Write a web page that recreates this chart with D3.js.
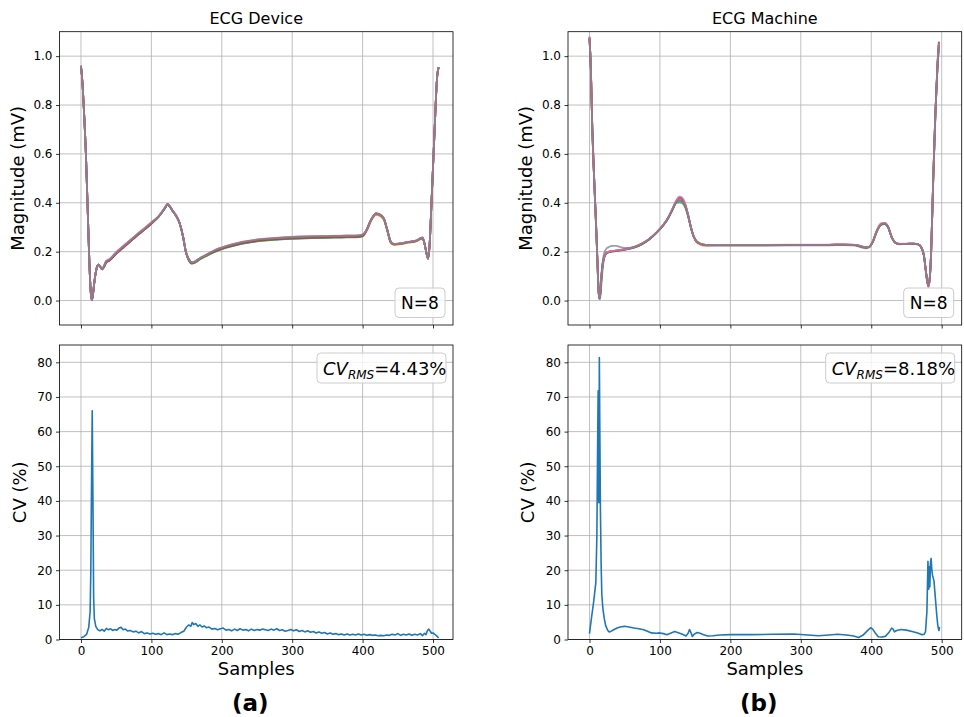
<!DOCTYPE html>
<html><head><meta charset="utf-8">
<script src="https://cdn.jsdelivr.net/npm/d3@7/dist/d3.min.js"></script>
<style>
body{margin:0;background:#fff}
svg{display:block;font-family:"DejaVu Sans",sans-serif}
</style></head>
<body><svg id="c" width="964" height="717"></svg>
<script>
// ---------------- DATA ----------------
const titles = ["ECG Device", "ECG Machine"];
const panelTags = ["(a)", "(b)"];
const nLabel = "N=8";
const cvRms = ["4.43%", "8.18%"];
const xTicks = [0, 100, 200, 300, 400, 500];
const magTicks = [0.0, 0.2, 0.4, 0.6, 0.8, 1.0];
const cvTicks = [0, 10, 20, 30, 40, 50, 60, 70, 80];
const seriesColors = ["#1f77b4","#ff7f0e","#2ca02c","#d62728","#9467bd","#8c564b","#e377c2","#7f7f7f"];

// ECG Device: sample positions and 8 beats (mV)
const devX = [0,2,4,7,10, 12,14,15.5,17,19, 21,23,25,27,30, 33,36,40,45,50, 60,70,80,90,100,
  110,116,120,123,126, 130,135,140,145,149, 153,158,162,170,180, 190,200,215,230,250,
  270,290,310,330,350, 370,390,400,405,412, 419,424,430,435,440, 445,455,465,475,485,
  488,491,493,495,498, 502,506,508];
const devBeat1 = [.960,.895,.790,.600,.330, .150,.030,.002,.025,.075, .115,.140,.147,.140,.128,
  .138,.156,.162,.176,.191, .216,.241,.266,.289,.314, .341,.363,.381,.392,.384, .366,.346,.316,.260,.198,
  .166,.152,.156,.171,.186, .199,.210,.223,.233,.242, .247,.251,.254,.256,.257, .258,.259,.263,.282,.327,
  .353,.349,.333,.287,.237, .229,.232,.238,.242,.255, .232,.190,.172,.220,.410, .680,.920,.955];
const devBeat2 = [.960,.895,.790,.600,.330, .150,.030,.002,.025,.075, .115,.140,.147,.140,.128,
  .140,.158,.164,.178,.193, .218,.243,.268,.291,.316, .343,.365,.383,.394,.386, .368,.348,.318,.262,.200,
  .168,.154,.158,.173,.188, .201,.212,.225,.235,.244, .249,.253,.256,.258,.259, .260,.261,.265,.280,.325,
  .351,.347,.331,.285,.235, .228,.231,.237,.241,.254, .232,.190,.172,.220,.410, .680,.920,.955];
const devBeat3 = [.960,.895,.790,.600,.330, .150,.030,.002,.025,.075, .115,.140,.147,.140,.128,
  .140,.158,.164,.178,.193, .218,.243,.268,.291,.316, .343,.365,.383,.394,.386, .366,.346,.316,.260,.198,
  .165,.151,.155,.170,.185, .200,.211,.224,.234,.243, .248,.252,.255,.257,.258, .259,.260,.264,.285,.330,
  .356,.352,.336,.290,.240, .230,.233,.239,.243,.256, .232,.190,.172,.220,.410, .680,.920,.955];
const devBeat4 = [.960,.895,.790,.600,.330, .150,.030,.002,.025,.075, .115,.140,.147,.140,.128,
  .139,.157,.163,.177,.192, .217,.242,.267,.290,.315, .343,.365,.383,.394,.386, .368,.348,.318,.262,.200,
  .168,.154,.158,.173,.188, .202,.213,.226,.236,.245, .250,.254,.257,.259,.260, .261,.262,.266,.285,.330,
  .356,.352,.336,.290,.240, .231,.234,.240,.244,.257, .232,.190,.172,.220,.410, .680,.920,.955];
const devBeat5 = [.960,.895,.790,.600,.330, .150,.030,.002,.025,.075, .115,.140,.147,.140,.128,
  .144,.162,.168,.182,.197, .222,.247,.272,.295,.320, .343,.365,.383,.394,.386, .368,.348,.318,.262,.200,
  .170,.156,.160,.175,.190, .205,.216,.229,.239,.248, .253,.257,.260,.262,.263, .264,.265,.269,.287,.332,
  .358,.354,.338,.292,.242, .231,.234,.240,.244,.257, .232,.190,.172,.220,.410, .680,.920,.955];
const devBeat6 = [.960,.895,.790,.600,.330, .150,.030,.002,.025,.075, .115,.140,.147,.140,.128,
  .143,.161,.167,.181,.196, .221,.246,.271,.294,.319, .343,.365,.383,.394,.386, .368,.348,.318,.262,.200,
  .170,.156,.160,.175,.190, .203,.214,.227,.237,.246, .251,.255,.258,.260,.261, .262,.263,.267,.285,.330,
  .356,.352,.336,.290,.240, .231,.234,.240,.244,.257, .232,.190,.172,.220,.410, .680,.920,.955];
const devBeat7 = [.960,.895,.790,.600,.330, .150,.030,.002,.025,.075, .115,.140,.147,.140,.128,
  .145,.163,.169,.183,.198, .223,.248,.273,.296,.321, .345,.367,.385,.396,.388, .368,.348,.318,.262,.200,
  .170,.156,.160,.175,.190, .207,.218,.231,.241,.250, .255,.259,.262,.264,.265, .266,.267,.271,.285,.330,
  .356,.352,.336,.290,.240, .232,.235,.241,.245,.258, .232,.190,.172,.220,.410, .680,.920,.955];
const devBeat8 = [.960,.895,.790,.600,.330, .150,.030,.002,.025,.075, .115,.140,.147,.140,.128,
  .142,.160,.166,.180,.195, .220,.245,.270,.293,.318, .343,.365,.383,.394,.386, .368,.348,.318,.262,.200,
  .170,.156,.160,.175,.190, .206,.217,.230,.240,.249, .254,.258,.261,.263,.264, .265,.266,.270,.285,.330,
  .356,.352,.336,.290,.240, .231,.234,.240,.244,.257, .232,.190,.172,.220,.410, .680,.920,.955];

// ECG Machine: sample positions and 8 beats (mV)
const machX = [0,2,4,6,8, 10,12,13.5,15,17, 19,21,24,28,32, 38,45,55,65,75, 85,95,105,112,118,
  123,128,132,136,140, 144,148,152,158,165, 180,200,250,300,340, 360,375,385,392,397,
  402,408,414,419,424, 429,434,440,450,460, 466,471,475,478,481, 483,485,488,491,494, 496];
const machBeat1 = [1.070,.950,.700,.540,.400, .265,.110,.020,.005,.070, .140,.175,.193,.199,.201,
  .203,.206,.211,.219,.232, .251,.277,.308,.338,.372, .400,.410,.404,.384,.346, .298,.261,.241,.231,.226,
  .225,.225,.225,.226,.226, .227,.226,.219,.214,.217, .238,.283,.310,.313,.298, .259,.237,.231,.231,.232,
  .230,.217,.180,.112,.062, .090,.190,.490,.750,.950,1.030];
const machBeat2 = [1.075,.940,.700,.540,.400, .260,.100,.010,.020,.100, .155,.180,.195,.200,.202,
  .204,.207,.212,.220,.233, .252,.278,.310,.340,.376, .408,.425,.418,.394,.350, .298,.258,.238,.228,.224,
  .226,.226,.226,.227,.227, .228,.227,.221,.217,.219, .241,.288,.316,.318,.302, .260,.238,.232,.232,.233,
  .231,.218,.180,.110,.060, .090,.200,.500,.760,.960,1.050];
const machBeat3 = [1.075,.940,.700,.540,.400, .260,.100,.010,.020,.095, .150,.176,.192,.198,.200,
  .202,.205,.210,.218,.231, .250,.276,.308,.338,.372, .400,.402,.398,.380,.344, .298,.262,.242,.232,.228,
  .227,.227,.227,.228,.228, .229,.228,.222,.218,.220, .238,.282,.310,.314,.300, .260,.236,.230,.231,.232,
  .230,.218,.182,.112,.062, .092,.195,.495,.755,.955,1.040];
const machBeat4 = [1.080,.945,.705,.545,.405, .262,.102,.008,.022,.100, .155,.180,.195,.200,.202,
  .204,.207,.212,.220,.233, .252,.278,.310,.340,.375, .406,.422,.416,.392,.350, .300,.262,.242,.232,.228,
  .227,.227,.227,.228,.228, .229,.228,.222,.218,.220, .240,.286,.314,.317,.301, .260,.238,.232,.232,.233,
  .231,.218,.178,.105,.055, .085,.195,.500,.765,.965,1.058];
const machBeat5 = [1.075,.940,.700,.540,.400, .260,.100,.010,.020,.100, .155,.180,.195,.200,.202,
  .204,.207,.212,.220,.233, .252,.278,.310,.340,.375, .405,.415,.410,.388,.348, .300,.262,.242,.232,.228,
  .227,.227,.227,.228,.228, .229,.228,.222,.218,.220, .240,.285,.312,.315,.300, .260,.238,.232,.232,.233,
  .231,.218,.180,.110,.060, .090,.200,.500,.760,.958,1.045];
const machBeat6 = [1.075,.940,.700,.540,.400, .260,.100,.010,.020,.100, .155,.180,.195,.200,.202,
  .204,.207,.212,.220,.233, .252,.278,.310,.340,.375, .405,.420,.414,.391,.350, .300,.262,.242,.232,.228,
  .227,.227,.227,.228,.228, .229,.228,.222,.218,.220, .240,.285,.312,.315,.300, .260,.238,.232,.232,.233,
  .231,.218,.180,.110,.060, .090,.200,.505,.770,.970,1.060];
const machBeat7 = [1.078,.945,.702,.542,.402, .262,.102,.010,.020,.100, .155,.180,.196,.201,.203,
  .205,.208,.213,.221,.234, .253,.279,.311,.341,.377, .408,.425,.419,.395,.351, .300,.262,.242,.232,.228,
  .228,.228,.228,.229,.229, .230,.229,.223,.219,.221, .241,.287,.315,.318,.302, .261,.239,.233,.233,.234,
  .232,.219,.180,.108,.058, .088,.198,.500,.762,.962,1.052];
const machBeat8 = [1.070,.950,.720,.560,.410, .270,.110,.012,.025,.110, .165,.195,.212,.220,.224,
  .224,.218,.215,.222,.234, .252,.278,.310,.340,.374, .402,.408,.404,.386,.348, .300,.262,.242,.232,.228,
  .227,.227,.227,.228,.228, .229,.228,.222,.218,.220, .240,.285,.312,.315,.300, .260,.238,.232,.232,.233,
  .231,.218,.180,.110,.060, .090,.200,.500,.760,.958,1.045];

// CV (%) along samples
const devCVx = [0,4,8,11,13,14,15,16,17,18,19,21,24,27,30,33,36,39,42,45,48,51,54,57,60,63,66,70,74,78,82,86,90,94,98,
  102,106,110,114,118,122,126,130,134,138,142,146,150,153,156,158,160,163,166,169,172,175,178,182,186,190,194,198,
  202,206,210,214,218,222,226,230,234,238,242,246,250,254,258,262,266,270,274,278,282,286,290,294,298,
  302,306,310,314,318,322,326,330,334,338,342,346,350,354,358,362,366,370,374,378,382,386,390,394,398,
  402,406,410,414,418,422,426,430,434,438,442,446,450,454,458,462,466,470,474,478,482,485,488,490,492,494,496,498,
  500,503,506,508];
const devCV = [0.5,0.8,1.5,3.5,8,20,45,66,40,12,6,3.8,2.8,2.5,2.9,2.4,3.2,2.8,3.1,2.6,2.9,2.7,3.3,3.5,2.8,3.0,2.5,2.6,2.2,2.4,1.9,2.3,1.7,1.9,1.6,
  1.8,1.5,1.7,1.4,1.9,1.4,1.6,1.4,1.7,1.5,2.0,2.4,3.6,4.2,3.8,4.9,4.3,4.6,3.8,4.2,3.6,3.9,3.4,3.6,3.0,3.2,2.8,3.1,
  3.3,2.7,2.9,2.5,3.0,2.6,3.1,2.7,2.9,2.5,3.0,2.6,2.9,2.7,3.0,2.8,2.6,3.0,2.7,3.1,2.6,2.8,2.4,2.6,2.9,
  2.5,2.8,2.3,2.6,2.2,2.5,2.1,2.3,1.9,2.2,1.8,2.0,1.6,1.9,1.5,1.7,1.4,1.6,1.3,1.6,1.3,1.5,1.3,1.6,1.3,
  1.5,1.2,1.4,1.2,1.3,1.1,1.2,1.1,1.3,1.2,1.5,1.3,1.7,1.2,1.5,1.3,1.6,1.2,1.5,1.3,1.7,1.1,1.8,1.4,2.5,3.0,2.4,1.8,
  1.9,1.4,0.9,0.4];
const machCVx = [0,3,6,9,10.5,11.5,12.3,12.8,13.3,14,14.7,15.5,16.5,17.5,19,21,23,26,28,31,35,40,45,50,56,63,70,77,83,
  88,95,100,105,110,115,121,127,132,137,140,142,144,146,149,153,157,162,168,175,185,200,230,260,290,310,325,340,352,
  365,375,382,388,394,399,402,406,410,415,420,425,429,431,433,436,442,450,458,466,472,475,477,479,480.5,481.5,482.5,
  483.2,484,485,486,487,489,491,493,494.5,496,497];
const machCV = [1.7,6.5,11,16.4,30,55,71.8,45,39.5,81.4,60,38,22,13,9,6,4,2.6,2.2,2.4,2.9,3.4,3.7,3.8,3.6,3.3,3.1,2.8,2.3,
  1.9,1.8,1.9,1.7,1.4,1.8,2.3,1.9,1.5,1.0,1.8,2.9,2.0,0.9,1.6,2.0,1.8,1.4,1.0,1.1,1.3,1.4,1.4,1.5,1.6,1.3,1.1,1.3,1.5,
  1.3,1.0,0.6,1.2,2.4,3.4,3.0,1.8,0.8,0.7,0.9,2.0,3.3,3.0,2.2,2.6,2.9,2.7,2.3,1.9,1.4,1.5,2.2,8,22.6,14.5,21,
  15.2,22,23.4,20,18.5,17,12,7,4.0,2.6,3.6,3.2];

const devBeats = [devBeat1,devBeat2,devBeat3,devBeat4,devBeat5,devBeat6,devBeat7,devBeat8];
const machBeats = [machBeat1,machBeat2,machBeat3,machBeat4,machBeat5,machBeat6,machBeat7,machBeat8];

// ---------------- DRAW ----------------
const svg = d3.select("#c");
const cols = [{l:59.5, r:453}, {l:568, r:961.7}];
const topRow = {t:31.7, b:325};
const botRow = {t:345, b:639.5};
const xDom = [-30.5, 528.4];
const grid = "#b0b0b0";
const fs = 12;

let clipId = 0;
function makeAxes(col, row, yDom, yTicks, yFmt, showXLabels) {
  const x = d3.scaleLinear().domain(xDom).range([col.l, col.r]);
  const y = d3.scaleLinear().domain(yDom).range([row.b, row.t]);
  const g = svg.append("g");
  g.selectAll(".gx").data(xTicks).join("line")
    .attr("x1", d => x(d)).attr("x2", d => x(d)).attr("y1", row.t).attr("y2", row.b)
    .attr("stroke", grid).attr("stroke-width", 0.8);
  g.selectAll(".gy").data(yTicks).join("line")
    .attr("y1", d => y(d)).attr("y2", d => y(d)).attr("x1", col.l).attr("x2", col.r)
    .attr("stroke", grid).attr("stroke-width", 0.8);
  const ax = d3.axisBottom(x).tickValues(xTicks).tickSize(3.5).tickPadding(3.5)
    .tickFormat(showXLabels ? d3.format("d") : () => "");
  const gx = svg.append("g").attr("transform", `translate(0,${row.b})`).call(ax);
  const ay = d3.axisLeft(y).tickValues(yTicks).tickSize(3.5).tickPadding(3.5).tickFormat(yFmt);
  const gy = svg.append("g").attr("transform", `translate(${col.l},0)`).call(ay);
  [gx, gy].forEach(a => {
    a.select(".domain").remove();
    a.selectAll(".tick line").attr("stroke", "#000").attr("stroke-width", 0.8);
    a.selectAll("text").attr("font-size", fs).attr("fill", "#000")
      .attr("font-family", "DejaVu Sans, sans-serif");
  });
  const id = "clip" + (clipId++);
  svg.append("clipPath").attr("id", id).append("rect")
    .attr("x", col.l).attr("y", row.t).attr("width", col.r - col.l).attr("height", row.b - row.t);
  const plot = svg.append("g").attr("clip-path", `url(#${id})`);
  return {x, y, plot, col, row};
}
function frame(a) {
  svg.append("rect").attr("x", a.col.l).attr("y", a.row.t)
    .attr("width", a.col.r - a.col.l).attr("height", a.row.b - a.row.t)
    .attr("fill", "none").attr("stroke", "#000").attr("stroke-width", 0.8);
}
function legendBox(x0, y0, w, h) {
  svg.append("rect").attr("x", x0).attr("y", y0).attr("width", w).attr("height", h)
    .attr("rx", 4).attr("fill", "#fff").attr("fill-opacity", 0.8)
    .attr("stroke", "#cccccc").attr("stroke-width", 1);
}

const beatsAll = [{xs: devX, beats: devBeats, op: 0.8}, {xs: machX, beats: machBeats, op: 0.75}];
const cvAll = [{xs: devCVx, ys: devCV}, {xs: machCVx, ys: machCV}];

[0, 1].forEach(i => {
  const col = cols[i];
  const a = makeAxes(col, topRow, [-0.1, 1.1], magTicks, d3.format(".1f"), false);
  const b = beatsAll[i];
  const line = d3.line().x(d => a.x(d[0])).y(d => a.y(d[1])).curve(d3.curveMonotoneX);
  b.beats.forEach((vals, k) => {
    a.plot.append("path").datum(b.xs.map((s, j) => [s, vals[j]]))
      .attr("d", line).attr("fill", "none").attr("stroke", seriesColors[k])
      .attr("stroke-width", 1.8).attr("stroke-opacity", b.op).attr("stroke-linejoin", "round");
  });
  frame(a);
  legendBox(col.r - 58, topRow.b - 37, 50, 29.5);
  svg.append("text").attr("x", col.r - 33).attr("y", topRow.b - 16).attr("text-anchor", "middle")
    .attr("font-size", 17).text(nLabel);
  svg.append("text").attr("x", (col.l + col.r) / 2).attr("y", 24).attr("text-anchor", "middle")
    .attr("font-size", 16).text(titles[i]);
  svg.append("text").attr("transform", `translate(${col.l - 36},${(topRow.t + topRow.b) / 2}) rotate(-90)`)
    .attr("text-anchor", "middle").attr("font-size", 18).text("Magnitude (mV)");

  const c = makeAxes(col, botRow, [0, 85], cvTicks, d3.format("d"), true);
  const cv = cvAll[i];
  const cl = d3.line().x(d => c.x(d[0])).y(d => c.y(d[1]));
  c.plot.append("path").datum(cv.xs.map((s, j) => [s, cv.ys[j]]))
    .attr("d", cl).attr("fill", "none").attr("stroke", "#1f77b4")
    .attr("stroke-width", 1.6).attr("stroke-linejoin", "round");
  frame(c);
  legendBox(col.r - 136, botRow.t + 8, 129, 30);
  const t = svg.append("text").attr("x", col.r - 130).attr("y", botRow.t + 30).attr("font-size", 18);
  t.append("tspan").attr("font-style", "italic").text("CV");
  t.append("tspan").attr("font-style", "italic").attr("font-size", 12).attr("dy", 4).text("RMS");
  t.append("tspan").attr("dy", -4).text("=" + cvRms[i]);
  svg.append("text").attr("transform", `translate(${col.l - 34},${(botRow.t + botRow.b) / 2}) rotate(-90)`)
    .attr("text-anchor", "middle").attr("font-size", 18).text("CV (%)");
  svg.append("text").attr("x", (col.l + col.r) / 2).attr("y", 675).attr("text-anchor", "middle")
    .attr("font-size", 18).text("Samples");
  svg.append("text").attr("x", (col.l + col.r) / 2 - 6).attr("y", 711).attr("text-anchor", "middle")
    .attr("font-size", 23).attr("font-weight", "bold").text(panelTags[i]);
});
</script>
</body></html>
